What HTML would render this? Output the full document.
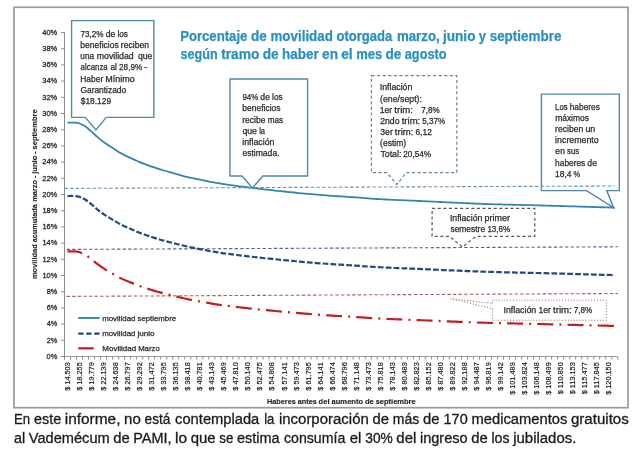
<!DOCTYPE html><html><head><meta charset="utf-8"><style>html,body{margin:0;padding:0;background:#fff;}svg{display:block;}</style></head><body>
<svg width="643" height="460" viewBox="0 0 643 460">
<rect x="0" y="0" width="643" height="460" fill="#fff"/>
<rect x="14" y="7.3" width="614" height="400.4" fill="none" stroke="#9a9a9a" stroke-width="1.7"/>
<text font-family="Liberation Sans, Arial, sans-serif" font-weight="bold" font-size="13.86" fill="#2b90bf" stroke="#2b90bf" stroke-width="0.25"><tspan x="180.14" y="40.90" textLength="67.26" lengthAdjust="spacingAndGlyphs">Porcentaje</tspan><tspan x="250.91" y="40.90" textLength="15.90" lengthAdjust="spacingAndGlyphs">de</tspan><tspan x="270.45" y="40.90" textLength="62.45" lengthAdjust="spacingAndGlyphs">movilidad</tspan><tspan x="336.50" y="40.90" textLength="55.80" lengthAdjust="spacingAndGlyphs">otorgada</tspan><tspan x="396.89" y="40.90" textLength="42.83" lengthAdjust="spacingAndGlyphs">marzo,</tspan><tspan x="443.03" y="40.90" textLength="32.43" lengthAdjust="spacingAndGlyphs">junio</tspan><tspan x="478.80" y="40.90" textLength="7.33" lengthAdjust="spacingAndGlyphs">y</tspan><tspan x="489.68" y="40.90" textLength="71.70" lengthAdjust="spacingAndGlyphs">septiembre</tspan><tspan x="180.56" y="59.10" textLength="37.18" lengthAdjust="spacingAndGlyphs">según</tspan><tspan x="221.16" y="59.10" textLength="38.31" lengthAdjust="spacingAndGlyphs">tramo</tspan><tspan x="262.72" y="59.10" textLength="15.90" lengthAdjust="spacingAndGlyphs">de</tspan><tspan x="281.94" y="59.10" textLength="36.72" lengthAdjust="spacingAndGlyphs">haber</tspan><tspan x="322.05" y="59.10" textLength="15.94" lengthAdjust="spacingAndGlyphs">en</tspan><tspan x="341.21" y="59.10" textLength="11.50" lengthAdjust="spacingAndGlyphs">el</tspan><tspan x="356.13" y="59.10" textLength="26.08" lengthAdjust="spacingAndGlyphs">mes</tspan><tspan x="385.38" y="59.10" textLength="15.90" lengthAdjust="spacingAndGlyphs">de</tspan><tspan x="404.79" y="59.10" textLength="41.76" lengthAdjust="spacingAndGlyphs">agosto</tspan></text>
<line x1="64.5" y1="32.2" x2="64.5" y2="359.5" stroke="#8a8a8a" stroke-width="1"/>
<line x1="61.2" y1="356.50" x2="64.5" y2="356.50" stroke="#8a8a8a" stroke-width="1"/>
<line x1="61.2" y1="340.30" x2="64.5" y2="340.30" stroke="#8a8a8a" stroke-width="1"/>
<line x1="61.2" y1="324.10" x2="64.5" y2="324.10" stroke="#8a8a8a" stroke-width="1"/>
<line x1="61.2" y1="307.90" x2="64.5" y2="307.90" stroke="#8a8a8a" stroke-width="1"/>
<line x1="61.2" y1="291.70" x2="64.5" y2="291.70" stroke="#8a8a8a" stroke-width="1"/>
<line x1="61.2" y1="275.50" x2="64.5" y2="275.50" stroke="#8a8a8a" stroke-width="1"/>
<line x1="61.2" y1="259.30" x2="64.5" y2="259.30" stroke="#8a8a8a" stroke-width="1"/>
<line x1="61.2" y1="243.10" x2="64.5" y2="243.10" stroke="#8a8a8a" stroke-width="1"/>
<line x1="61.2" y1="226.90" x2="64.5" y2="226.90" stroke="#8a8a8a" stroke-width="1"/>
<line x1="61.2" y1="210.70" x2="64.5" y2="210.70" stroke="#8a8a8a" stroke-width="1"/>
<line x1="61.2" y1="194.50" x2="64.5" y2="194.50" stroke="#8a8a8a" stroke-width="1"/>
<line x1="61.2" y1="178.30" x2="64.5" y2="178.30" stroke="#8a8a8a" stroke-width="1"/>
<line x1="61.2" y1="162.10" x2="64.5" y2="162.10" stroke="#8a8a8a" stroke-width="1"/>
<line x1="61.2" y1="145.90" x2="64.5" y2="145.90" stroke="#8a8a8a" stroke-width="1"/>
<line x1="61.2" y1="129.70" x2="64.5" y2="129.70" stroke="#8a8a8a" stroke-width="1"/>
<line x1="61.2" y1="113.50" x2="64.5" y2="113.50" stroke="#8a8a8a" stroke-width="1"/>
<line x1="61.2" y1="97.30" x2="64.5" y2="97.30" stroke="#8a8a8a" stroke-width="1"/>
<line x1="61.2" y1="81.10" x2="64.5" y2="81.10" stroke="#8a8a8a" stroke-width="1"/>
<line x1="61.2" y1="64.90" x2="64.5" y2="64.90" stroke="#8a8a8a" stroke-width="1"/>
<line x1="61.2" y1="48.70" x2="64.5" y2="48.70" stroke="#8a8a8a" stroke-width="1"/>
<line x1="61.2" y1="32.50" x2="64.5" y2="32.50" stroke="#8a8a8a" stroke-width="1"/>
<text font-family="Liberation Sans, Arial, sans-serif" font-size="7.96" fill="#2a2a2a" stroke="#2a2a2a" stroke-width="0.3"><tspan x="46.57" y="358.80" textLength="10.69" lengthAdjust="spacingAndGlyphs">0%</tspan><tspan x="46.67" y="342.60" textLength="10.59" lengthAdjust="spacingAndGlyphs">2%</tspan><tspan x="46.63" y="326.40" textLength="10.63" lengthAdjust="spacingAndGlyphs">4%</tspan><tspan x="46.67" y="310.20" textLength="10.59" lengthAdjust="spacingAndGlyphs">6%</tspan><tspan x="46.67" y="294.00" textLength="10.59" lengthAdjust="spacingAndGlyphs">8%</tspan><tspan x="42.39" y="277.80" textLength="14.88" lengthAdjust="spacingAndGlyphs">10%</tspan><tspan x="42.39" y="261.60" textLength="14.88" lengthAdjust="spacingAndGlyphs">12%</tspan><tspan x="42.39" y="245.40" textLength="14.88" lengthAdjust="spacingAndGlyphs">14%</tspan><tspan x="42.39" y="229.20" textLength="14.88" lengthAdjust="spacingAndGlyphs">16%</tspan><tspan x="42.39" y="213.00" textLength="14.88" lengthAdjust="spacingAndGlyphs">18%</tspan><tspan x="42.23" y="196.80" textLength="15.05" lengthAdjust="spacingAndGlyphs">20%</tspan><tspan x="42.23" y="180.60" textLength="15.05" lengthAdjust="spacingAndGlyphs">22%</tspan><tspan x="42.23" y="164.40" textLength="15.05" lengthAdjust="spacingAndGlyphs">24%</tspan><tspan x="42.23" y="148.20" textLength="15.05" lengthAdjust="spacingAndGlyphs">26%</tspan><tspan x="42.23" y="132.00" textLength="15.05" lengthAdjust="spacingAndGlyphs">28%</tspan><tspan x="42.30" y="115.80" textLength="14.97" lengthAdjust="spacingAndGlyphs">30%</tspan><tspan x="42.30" y="99.60" textLength="14.97" lengthAdjust="spacingAndGlyphs">32%</tspan><tspan x="42.30" y="83.40" textLength="14.97" lengthAdjust="spacingAndGlyphs">34%</tspan><tspan x="42.30" y="67.20" textLength="14.97" lengthAdjust="spacingAndGlyphs">36%</tspan><tspan x="42.30" y="51.00" textLength="14.97" lengthAdjust="spacingAndGlyphs">38%</tspan><tspan x="42.19" y="34.80" textLength="15.09" lengthAdjust="spacingAndGlyphs">40%</tspan></text>
<line x1="64.5" y1="356.5" x2="617.8" y2="356.5" stroke="#a0a0a0" stroke-width="1"/>
<line x1="64.50" y1="356.5" x2="64.50" y2="359.5" stroke="#8a8a8a" stroke-width="1"/>
<line x1="70.51" y1="356.5" x2="70.51" y2="359.5" stroke="#8a8a8a" stroke-width="1"/>
<line x1="76.53" y1="356.5" x2="76.53" y2="359.5" stroke="#8a8a8a" stroke-width="1"/>
<line x1="82.54" y1="356.5" x2="82.54" y2="359.5" stroke="#8a8a8a" stroke-width="1"/>
<line x1="88.56" y1="356.5" x2="88.56" y2="359.5" stroke="#8a8a8a" stroke-width="1"/>
<line x1="94.57" y1="356.5" x2="94.57" y2="359.5" stroke="#8a8a8a" stroke-width="1"/>
<line x1="100.58" y1="356.5" x2="100.58" y2="359.5" stroke="#8a8a8a" stroke-width="1"/>
<line x1="106.60" y1="356.5" x2="106.60" y2="359.5" stroke="#8a8a8a" stroke-width="1"/>
<line x1="112.61" y1="356.5" x2="112.61" y2="359.5" stroke="#8a8a8a" stroke-width="1"/>
<line x1="118.63" y1="356.5" x2="118.63" y2="359.5" stroke="#8a8a8a" stroke-width="1"/>
<line x1="124.64" y1="356.5" x2="124.64" y2="359.5" stroke="#8a8a8a" stroke-width="1"/>
<line x1="130.66" y1="356.5" x2="130.66" y2="359.5" stroke="#8a8a8a" stroke-width="1"/>
<line x1="136.67" y1="356.5" x2="136.67" y2="359.5" stroke="#8a8a8a" stroke-width="1"/>
<line x1="142.68" y1="356.5" x2="142.68" y2="359.5" stroke="#8a8a8a" stroke-width="1"/>
<line x1="148.70" y1="356.5" x2="148.70" y2="359.5" stroke="#8a8a8a" stroke-width="1"/>
<line x1="154.71" y1="356.5" x2="154.71" y2="359.5" stroke="#8a8a8a" stroke-width="1"/>
<line x1="160.73" y1="356.5" x2="160.73" y2="359.5" stroke="#8a8a8a" stroke-width="1"/>
<line x1="166.74" y1="356.5" x2="166.74" y2="359.5" stroke="#8a8a8a" stroke-width="1"/>
<line x1="172.75" y1="356.5" x2="172.75" y2="359.5" stroke="#8a8a8a" stroke-width="1"/>
<line x1="178.77" y1="356.5" x2="178.77" y2="359.5" stroke="#8a8a8a" stroke-width="1"/>
<line x1="184.78" y1="356.5" x2="184.78" y2="359.5" stroke="#8a8a8a" stroke-width="1"/>
<line x1="190.80" y1="356.5" x2="190.80" y2="359.5" stroke="#8a8a8a" stroke-width="1"/>
<line x1="196.81" y1="356.5" x2="196.81" y2="359.5" stroke="#8a8a8a" stroke-width="1"/>
<line x1="202.82" y1="356.5" x2="202.82" y2="359.5" stroke="#8a8a8a" stroke-width="1"/>
<line x1="208.84" y1="356.5" x2="208.84" y2="359.5" stroke="#8a8a8a" stroke-width="1"/>
<line x1="214.85" y1="356.5" x2="214.85" y2="359.5" stroke="#8a8a8a" stroke-width="1"/>
<line x1="220.87" y1="356.5" x2="220.87" y2="359.5" stroke="#8a8a8a" stroke-width="1"/>
<line x1="226.88" y1="356.5" x2="226.88" y2="359.5" stroke="#8a8a8a" stroke-width="1"/>
<line x1="232.90" y1="356.5" x2="232.90" y2="359.5" stroke="#8a8a8a" stroke-width="1"/>
<line x1="238.91" y1="356.5" x2="238.91" y2="359.5" stroke="#8a8a8a" stroke-width="1"/>
<line x1="244.92" y1="356.5" x2="244.92" y2="359.5" stroke="#8a8a8a" stroke-width="1"/>
<line x1="250.94" y1="356.5" x2="250.94" y2="359.5" stroke="#8a8a8a" stroke-width="1"/>
<line x1="256.95" y1="356.5" x2="256.95" y2="359.5" stroke="#8a8a8a" stroke-width="1"/>
<line x1="262.97" y1="356.5" x2="262.97" y2="359.5" stroke="#8a8a8a" stroke-width="1"/>
<line x1="268.98" y1="356.5" x2="268.98" y2="359.5" stroke="#8a8a8a" stroke-width="1"/>
<line x1="274.99" y1="356.5" x2="274.99" y2="359.5" stroke="#8a8a8a" stroke-width="1"/>
<line x1="281.01" y1="356.5" x2="281.01" y2="359.5" stroke="#8a8a8a" stroke-width="1"/>
<line x1="287.02" y1="356.5" x2="287.02" y2="359.5" stroke="#8a8a8a" stroke-width="1"/>
<line x1="293.04" y1="356.5" x2="293.04" y2="359.5" stroke="#8a8a8a" stroke-width="1"/>
<line x1="299.05" y1="356.5" x2="299.05" y2="359.5" stroke="#8a8a8a" stroke-width="1"/>
<line x1="305.07" y1="356.5" x2="305.07" y2="359.5" stroke="#8a8a8a" stroke-width="1"/>
<line x1="311.08" y1="356.5" x2="311.08" y2="359.5" stroke="#8a8a8a" stroke-width="1"/>
<line x1="317.09" y1="356.5" x2="317.09" y2="359.5" stroke="#8a8a8a" stroke-width="1"/>
<line x1="323.11" y1="356.5" x2="323.11" y2="359.5" stroke="#8a8a8a" stroke-width="1"/>
<line x1="329.12" y1="356.5" x2="329.12" y2="359.5" stroke="#8a8a8a" stroke-width="1"/>
<line x1="335.14" y1="356.5" x2="335.14" y2="359.5" stroke="#8a8a8a" stroke-width="1"/>
<line x1="341.15" y1="356.5" x2="341.15" y2="359.5" stroke="#8a8a8a" stroke-width="1"/>
<line x1="347.16" y1="356.5" x2="347.16" y2="359.5" stroke="#8a8a8a" stroke-width="1"/>
<line x1="353.18" y1="356.5" x2="353.18" y2="359.5" stroke="#8a8a8a" stroke-width="1"/>
<line x1="359.19" y1="356.5" x2="359.19" y2="359.5" stroke="#8a8a8a" stroke-width="1"/>
<line x1="365.21" y1="356.5" x2="365.21" y2="359.5" stroke="#8a8a8a" stroke-width="1"/>
<line x1="371.22" y1="356.5" x2="371.22" y2="359.5" stroke="#8a8a8a" stroke-width="1"/>
<line x1="377.23" y1="356.5" x2="377.23" y2="359.5" stroke="#8a8a8a" stroke-width="1"/>
<line x1="383.25" y1="356.5" x2="383.25" y2="359.5" stroke="#8a8a8a" stroke-width="1"/>
<line x1="389.26" y1="356.5" x2="389.26" y2="359.5" stroke="#8a8a8a" stroke-width="1"/>
<line x1="395.28" y1="356.5" x2="395.28" y2="359.5" stroke="#8a8a8a" stroke-width="1"/>
<line x1="401.29" y1="356.5" x2="401.29" y2="359.5" stroke="#8a8a8a" stroke-width="1"/>
<line x1="407.31" y1="356.5" x2="407.31" y2="359.5" stroke="#8a8a8a" stroke-width="1"/>
<line x1="413.32" y1="356.5" x2="413.32" y2="359.5" stroke="#8a8a8a" stroke-width="1"/>
<line x1="419.33" y1="356.5" x2="419.33" y2="359.5" stroke="#8a8a8a" stroke-width="1"/>
<line x1="425.35" y1="356.5" x2="425.35" y2="359.5" stroke="#8a8a8a" stroke-width="1"/>
<line x1="431.36" y1="356.5" x2="431.36" y2="359.5" stroke="#8a8a8a" stroke-width="1"/>
<line x1="437.38" y1="356.5" x2="437.38" y2="359.5" stroke="#8a8a8a" stroke-width="1"/>
<line x1="443.39" y1="356.5" x2="443.39" y2="359.5" stroke="#8a8a8a" stroke-width="1"/>
<line x1="449.40" y1="356.5" x2="449.40" y2="359.5" stroke="#8a8a8a" stroke-width="1"/>
<line x1="455.42" y1="356.5" x2="455.42" y2="359.5" stroke="#8a8a8a" stroke-width="1"/>
<line x1="461.43" y1="356.5" x2="461.43" y2="359.5" stroke="#8a8a8a" stroke-width="1"/>
<line x1="467.45" y1="356.5" x2="467.45" y2="359.5" stroke="#8a8a8a" stroke-width="1"/>
<line x1="473.46" y1="356.5" x2="473.46" y2="359.5" stroke="#8a8a8a" stroke-width="1"/>
<line x1="479.47" y1="356.5" x2="479.47" y2="359.5" stroke="#8a8a8a" stroke-width="1"/>
<line x1="485.49" y1="356.5" x2="485.49" y2="359.5" stroke="#8a8a8a" stroke-width="1"/>
<line x1="491.50" y1="356.5" x2="491.50" y2="359.5" stroke="#8a8a8a" stroke-width="1"/>
<line x1="497.52" y1="356.5" x2="497.52" y2="359.5" stroke="#8a8a8a" stroke-width="1"/>
<line x1="503.53" y1="356.5" x2="503.53" y2="359.5" stroke="#8a8a8a" stroke-width="1"/>
<line x1="509.55" y1="356.5" x2="509.55" y2="359.5" stroke="#8a8a8a" stroke-width="1"/>
<line x1="515.56" y1="356.5" x2="515.56" y2="359.5" stroke="#8a8a8a" stroke-width="1"/>
<line x1="521.57" y1="356.5" x2="521.57" y2="359.5" stroke="#8a8a8a" stroke-width="1"/>
<line x1="527.59" y1="356.5" x2="527.59" y2="359.5" stroke="#8a8a8a" stroke-width="1"/>
<line x1="533.60" y1="356.5" x2="533.60" y2="359.5" stroke="#8a8a8a" stroke-width="1"/>
<line x1="539.62" y1="356.5" x2="539.62" y2="359.5" stroke="#8a8a8a" stroke-width="1"/>
<line x1="545.63" y1="356.5" x2="545.63" y2="359.5" stroke="#8a8a8a" stroke-width="1"/>
<line x1="551.64" y1="356.5" x2="551.64" y2="359.5" stroke="#8a8a8a" stroke-width="1"/>
<line x1="557.66" y1="356.5" x2="557.66" y2="359.5" stroke="#8a8a8a" stroke-width="1"/>
<line x1="563.67" y1="356.5" x2="563.67" y2="359.5" stroke="#8a8a8a" stroke-width="1"/>
<line x1="569.69" y1="356.5" x2="569.69" y2="359.5" stroke="#8a8a8a" stroke-width="1"/>
<line x1="575.70" y1="356.5" x2="575.70" y2="359.5" stroke="#8a8a8a" stroke-width="1"/>
<line x1="581.72" y1="356.5" x2="581.72" y2="359.5" stroke="#8a8a8a" stroke-width="1"/>
<line x1="587.73" y1="356.5" x2="587.73" y2="359.5" stroke="#8a8a8a" stroke-width="1"/>
<line x1="593.74" y1="356.5" x2="593.74" y2="359.5" stroke="#8a8a8a" stroke-width="1"/>
<line x1="599.76" y1="356.5" x2="599.76" y2="359.5" stroke="#8a8a8a" stroke-width="1"/>
<line x1="605.77" y1="356.5" x2="605.77" y2="359.5" stroke="#8a8a8a" stroke-width="1"/>
<line x1="611.79" y1="356.5" x2="611.79" y2="359.5" stroke="#8a8a8a" stroke-width="1"/>
<line x1="617.80" y1="356.5" x2="617.80" y2="359.5" stroke="#8a8a8a" stroke-width="1"/>
<g font-family="Liberation Sans, Arial, sans-serif" font-size="7.3" fill="#2a2a2a" stroke="#2a2a2a" stroke-width="0.22"><text transform="translate(70.01,362.3) rotate(-90)" text-anchor="end">$ 14.503</text><text transform="translate(82.04,362.3) rotate(-90)" text-anchor="end">$ 18.255</text><text transform="translate(94.06,362.3) rotate(-90)" text-anchor="end">$ 19.779</text><text transform="translate(106.09,362.3) rotate(-90)" text-anchor="end">$ 22.139</text><text transform="translate(118.12,362.3) rotate(-90)" text-anchor="end">$ 24.638</text><text transform="translate(130.15,362.3) rotate(-90)" text-anchor="end">$ 26.797</text><text transform="translate(142.18,362.3) rotate(-90)" text-anchor="end">$ 29.292</text><text transform="translate(154.20,362.3) rotate(-90)" text-anchor="end">$ 31.472</text><text transform="translate(166.23,362.3) rotate(-90)" text-anchor="end">$ 33.795</text><text transform="translate(178.26,362.3) rotate(-90)" text-anchor="end">$ 36.135</text><text transform="translate(190.29,362.3) rotate(-90)" text-anchor="end">$ 38.418</text><text transform="translate(202.32,362.3) rotate(-90)" text-anchor="end">$ 40.781</text><text transform="translate(214.35,362.3) rotate(-90)" text-anchor="end">$ 43.143</text><text transform="translate(226.37,362.3) rotate(-90)" text-anchor="end">$ 45.469</text><text transform="translate(238.40,362.3) rotate(-90)" text-anchor="end">$ 47.810</text><text transform="translate(250.43,362.3) rotate(-90)" text-anchor="end">$ 50.140</text><text transform="translate(262.46,362.3) rotate(-90)" text-anchor="end">$ 52.475</text><text transform="translate(274.49,362.3) rotate(-90)" text-anchor="end">$ 54.808</text><text transform="translate(286.52,362.3) rotate(-90)" text-anchor="end">$ 57.141</text><text transform="translate(298.54,362.3) rotate(-90)" text-anchor="end">$ 59.473</text><text transform="translate(310.57,362.3) rotate(-90)" text-anchor="end">$ 61.795</text><text transform="translate(322.60,362.3) rotate(-90)" text-anchor="end">$ 64.141</text><text transform="translate(334.63,362.3) rotate(-90)" text-anchor="end">$ 66.474</text><text transform="translate(346.66,362.3) rotate(-90)" text-anchor="end">$ 68.796</text><text transform="translate(358.69,362.3) rotate(-90)" text-anchor="end">$ 71.148</text><text transform="translate(370.71,362.3) rotate(-90)" text-anchor="end">$ 73.473</text><text transform="translate(382.74,362.3) rotate(-90)" text-anchor="end">$ 75.818</text><text transform="translate(394.77,362.3) rotate(-90)" text-anchor="end">$ 78.143</text><text transform="translate(406.80,362.3) rotate(-90)" text-anchor="end">$ 80.483</text><text transform="translate(418.83,362.3) rotate(-90)" text-anchor="end">$ 82.823</text><text transform="translate(430.85,362.3) rotate(-90)" text-anchor="end">$ 85.152</text><text transform="translate(442.88,362.3) rotate(-90)" text-anchor="end">$ 87.480</text><text transform="translate(454.91,362.3) rotate(-90)" text-anchor="end">$ 89.822</text><text transform="translate(466.94,362.3) rotate(-90)" text-anchor="end">$ 92.188</text><text transform="translate(478.97,362.3) rotate(-90)" text-anchor="end">$ 94.487</text><text transform="translate(491.00,362.3) rotate(-90)" text-anchor="end">$ 96.819</text><text transform="translate(503.02,362.3) rotate(-90)" text-anchor="end">$ 99.142</text><text transform="translate(515.05,362.3) rotate(-90)" text-anchor="end">$ 101.489</text><text transform="translate(527.08,362.3) rotate(-90)" text-anchor="end">$ 103.824</text><text transform="translate(539.11,362.3) rotate(-90)" text-anchor="end">$ 106.148</text><text transform="translate(551.14,362.3) rotate(-90)" text-anchor="end">$ 108.499</text><text transform="translate(563.17,362.3) rotate(-90)" text-anchor="end">$ 110.850</text><text transform="translate(575.19,362.3) rotate(-90)" text-anchor="end">$ 113.153</text><text transform="translate(587.22,362.3) rotate(-90)" text-anchor="end">$ 115.477</text><text transform="translate(599.25,362.3) rotate(-90)" text-anchor="end">$ 117.845</text><text transform="translate(611.28,362.3) rotate(-90)" text-anchor="end">$ 120.150</text></g>
<text font-family="Liberation Sans, Arial, sans-serif" font-weight="bold" font-size="7.73" fill="#262626" stroke="#262626" stroke-width="0.15"><tspan x="266.92" y="404.30" textLength="28.92" lengthAdjust="spacingAndGlyphs">Haberes</tspan><tspan x="297.75" y="404.30" textLength="19.12" lengthAdjust="spacingAndGlyphs">antes</tspan><tspan x="318.61" y="404.30" textLength="10.93" lengthAdjust="spacingAndGlyphs">del</tspan><tspan x="331.50" y="404.30" textLength="31.69" lengthAdjust="spacingAndGlyphs">aumento</tspan><tspan x="364.97" y="404.30" textLength="8.87" lengthAdjust="spacingAndGlyphs">de</tspan><tspan x="375.67" y="404.30" textLength="39.99" lengthAdjust="spacingAndGlyphs">septiembre</tspan></text>
<text font-family="Liberation Sans, Arial, sans-serif" font-weight="bold" font-size="7.73" fill="#262626" stroke="#262626" stroke-width="0.15" transform="translate(36.9,278.6) rotate(-90)"><tspan x="-0.49" y="0.00" textLength="34.83" lengthAdjust="spacingAndGlyphs">movilidad</tspan><tspan x="36.34" y="0.00" textLength="38.00" lengthAdjust="spacingAndGlyphs">acumulada</tspan><tspan x="76.80" y="0.00" textLength="21.86" lengthAdjust="spacingAndGlyphs">marzo</tspan><tspan x="100.42" y="0.00" textLength="2.70" lengthAdjust="spacingAndGlyphs">-</tspan><tspan x="104.85" y="0.00" textLength="18.09" lengthAdjust="spacingAndGlyphs">junio</tspan><tspan x="124.67" y="0.00" textLength="2.70" lengthAdjust="spacingAndGlyphs">-</tspan><tspan x="129.19" y="0.00" textLength="39.99" lengthAdjust="spacingAndGlyphs">septiembre</tspan></text>
<line x1="66.6" y1="249.4" x2="617.9" y2="246.8" stroke="#4f6a92" stroke-width="1.1" stroke-dasharray="3.4 2.2"/>
<line x1="66.6" y1="296.4" x2="617.9" y2="293.5" stroke="#b85a5a" stroke-width="1.1" stroke-dasharray="3.4 2.2"/>
<path d="M67.51 251.43 C68.51 251.43 71.52 251.30 73.52 251.43 C75.53 251.56 77.53 251.64 79.54 252.21 C81.54 252.79 83.54 253.70 85.55 254.89 C87.55 256.09 89.56 257.83 91.56 259.38 C93.57 260.93 95.57 262.69 97.58 264.20 C99.58 265.71 101.59 267.13 103.59 268.44 C105.60 269.75 107.60 270.87 109.61 272.04 C111.61 273.20 113.62 274.33 115.62 275.42 C117.62 276.52 119.63 277.64 121.63 278.62 C123.64 279.59 125.64 280.44 127.65 281.27 C129.65 282.10 131.66 282.81 133.66 283.61 C135.67 284.41 137.67 285.33 139.68 286.09 C141.68 286.84 143.69 287.47 145.69 288.12 C147.70 288.77 149.70 289.38 151.70 289.99 C153.71 290.61 155.71 291.23 157.72 291.80 C159.72 292.37 161.73 292.90 163.73 293.42 C165.74 293.95 167.74 294.44 169.75 294.93 C171.75 295.43 173.76 295.92 175.76 296.41 C177.77 296.89 179.77 297.36 181.78 297.82 C183.78 298.28 185.78 298.75 187.79 299.16 C189.79 299.58 191.80 299.95 193.80 300.32 C195.81 300.70 197.81 301.06 199.82 301.42 C201.82 301.78 203.83 302.13 205.83 302.49 C207.84 302.85 209.84 303.24 211.85 303.59 C213.85 303.94 215.86 304.26 217.86 304.57 C219.87 304.87 221.87 305.14 223.87 305.40 C225.88 305.67 227.88 305.93 229.89 306.17 C231.89 306.42 233.90 306.66 235.90 306.89 C237.91 307.13 239.91 307.35 241.92 307.58 C243.92 307.80 245.93 308.02 247.93 308.24 C249.94 308.46 251.94 308.68 253.95 308.89 C255.95 309.11 257.95 309.31 259.96 309.52 C261.96 309.72 263.97 309.92 265.97 310.12 C267.98 310.32 269.98 310.51 271.99 310.70 C273.99 310.89 276.00 311.08 278.00 311.27 C280.01 311.45 282.01 311.64 284.02 311.82 C286.02 312.00 288.03 312.19 290.03 312.37 C292.03 312.55 294.04 312.73 296.04 312.91 C298.05 313.08 300.05 313.26 302.06 313.43 C304.06 313.60 306.07 313.77 308.07 313.94 C310.08 314.10 312.08 314.26 314.09 314.41 C316.09 314.56 318.10 314.71 320.10 314.85 C322.11 314.99 324.11 315.12 326.11 315.25 C328.12 315.38 330.12 315.50 332.13 315.62 C334.13 315.74 336.14 315.86 338.14 315.98 C340.15 316.09 342.15 316.21 344.16 316.32 C346.16 316.44 348.17 316.56 350.17 316.68 C352.18 316.80 354.18 316.93 356.19 317.06 C358.19 317.19 360.19 317.33 362.20 317.46 C364.20 317.59 366.21 317.72 368.21 317.85 C370.22 317.98 372.22 318.11 374.23 318.23 C376.23 318.35 378.24 318.46 380.24 318.57 C382.25 318.67 384.25 318.77 386.26 318.86 C388.26 318.95 390.27 319.03 392.27 319.12 C394.27 319.20 396.28 319.28 398.28 319.35 C400.29 319.43 402.29 319.50 404.30 319.58 C406.30 319.65 408.31 319.72 410.31 319.80 C412.32 319.88 414.32 319.95 416.33 320.03 C418.33 320.11 420.34 320.19 422.34 320.27 C424.35 320.36 426.35 320.44 428.35 320.53 C430.36 320.61 432.36 320.70 434.37 320.79 C436.37 320.87 438.38 320.96 440.38 321.04 C442.39 321.13 444.39 321.21 446.40 321.30 C448.40 321.38 450.41 321.46 452.41 321.54 C454.42 321.62 456.42 321.70 458.43 321.78 C460.43 321.86 462.43 321.93 464.44 322.01 C466.44 322.09 468.45 322.16 470.45 322.24 C472.46 322.31 474.46 322.39 476.47 322.46 C478.47 322.53 480.48 322.61 482.48 322.67 C484.49 322.74 486.49 322.81 488.50 322.87 C490.50 322.93 492.51 322.99 494.51 323.04 C496.52 323.10 498.52 323.15 500.52 323.20 C502.53 323.25 504.53 323.29 506.54 323.33 C508.54 323.38 510.55 323.42 512.55 323.46 C514.56 323.50 516.56 323.54 518.57 323.58 C520.57 323.62 522.58 323.66 524.58 323.70 C526.59 323.74 528.59 323.78 530.60 323.82 C532.60 323.86 534.60 323.90 536.61 323.95 C538.61 323.99 540.62 324.04 542.62 324.09 C544.63 324.14 546.63 324.19 548.64 324.24 C550.64 324.29 552.65 324.34 554.65 324.40 C556.66 324.45 558.66 324.50 560.67 324.55 C562.67 324.61 564.68 324.66 566.68 324.72 C568.68 324.77 570.69 324.82 572.69 324.88 C574.70 324.93 576.70 324.98 578.71 325.03 C580.71 325.08 582.72 325.14 584.72 325.19 C586.73 325.24 588.73 325.29 590.74 325.34 C592.74 325.39 594.75 325.44 596.75 325.49 C598.76 325.54 600.76 325.59 602.76 325.64 C604.77 325.69 606.77 325.75 608.78 325.80 C610.78 325.85 613.79 325.92 614.79 325.95" fill="none" stroke="#c02020" stroke-width="2.2" stroke-dasharray="16 6.1 2 6.1" stroke-dashoffset="1.1"/>
<path d="M67.51 196.03 C68.51 196.03 71.52 195.89 73.52 196.03 C75.53 196.17 77.53 196.25 79.54 196.86 C81.54 197.47 83.54 198.43 85.55 199.70 C87.55 200.97 89.56 202.82 91.56 204.46 C93.57 206.11 95.57 207.98 97.58 209.58 C99.58 211.18 101.59 212.69 103.59 214.08 C105.60 215.46 107.60 216.66 109.61 217.90 C111.61 219.13 113.62 220.33 115.62 221.49 C117.62 222.65 119.63 223.85 121.63 224.88 C123.64 225.91 125.64 226.81 127.65 227.69 C129.65 228.58 131.66 229.32 133.66 230.18 C135.67 231.03 137.67 232.01 139.68 232.80 C141.68 233.60 143.69 234.27 145.69 234.96 C147.70 235.65 149.70 236.30 151.70 236.95 C153.71 237.60 155.71 238.26 157.72 238.87 C159.72 239.48 161.73 240.04 163.73 240.59 C165.74 241.15 167.74 241.67 169.75 242.20 C171.75 242.72 173.76 243.25 175.76 243.76 C177.77 244.27 179.77 244.77 181.78 245.26 C183.78 245.75 185.78 246.24 187.79 246.68 C189.79 247.12 191.80 247.51 193.80 247.91 C195.81 248.31 197.81 248.69 199.82 249.07 C201.82 249.46 203.83 249.83 205.83 250.21 C207.84 250.60 209.84 251.01 211.85 251.38 C213.85 251.75 215.86 252.09 217.86 252.42 C219.87 252.74 221.87 253.02 223.87 253.30 C225.88 253.59 227.88 253.86 229.89 254.12 C231.89 254.39 233.90 254.64 235.90 254.89 C237.91 255.13 239.91 255.37 241.92 255.61 C243.92 255.85 245.93 256.08 247.93 256.31 C249.94 256.55 251.94 256.78 253.95 257.01 C255.95 257.23 257.95 257.46 259.96 257.67 C261.96 257.89 263.97 258.10 265.97 258.31 C267.98 258.52 269.98 258.73 271.99 258.93 C273.99 259.13 276.00 259.33 278.00 259.53 C280.01 259.72 282.01 259.92 284.02 260.11 C286.02 260.31 288.03 260.50 290.03 260.69 C292.03 260.89 294.04 261.08 296.04 261.27 C298.05 261.46 300.05 261.64 302.06 261.82 C304.06 262.01 306.07 262.19 308.07 262.36 C310.08 262.53 312.08 262.70 314.09 262.86 C316.09 263.03 318.10 263.18 320.10 263.33 C322.11 263.48 324.11 263.62 326.11 263.76 C328.12 263.89 330.12 264.02 332.13 264.15 C334.13 264.28 336.14 264.40 338.14 264.52 C340.15 264.65 342.15 264.77 344.16 264.89 C346.16 265.02 348.17 265.14 350.17 265.27 C352.18 265.40 354.18 265.54 356.19 265.67 C358.19 265.81 360.19 265.96 362.20 266.10 C364.20 266.24 366.21 266.38 368.21 266.52 C370.22 266.65 372.22 266.79 374.23 266.91 C376.23 267.04 378.24 267.16 380.24 267.27 C382.25 267.39 384.25 267.48 386.26 267.58 C388.26 267.68 390.27 267.77 392.27 267.86 C394.27 267.94 396.28 268.03 398.28 268.11 C400.29 268.19 402.29 268.27 404.30 268.35 C406.30 268.43 408.31 268.50 410.31 268.58 C412.32 268.66 414.32 268.74 416.33 268.83 C418.33 268.91 420.34 269.00 422.34 269.08 C424.35 269.17 426.35 269.26 428.35 269.35 C430.36 269.44 432.36 269.54 434.37 269.63 C436.37 269.72 438.38 269.81 440.38 269.90 C442.39 269.99 444.39 270.08 446.40 270.17 C448.40 270.26 450.41 270.35 452.41 270.43 C454.42 270.52 456.42 270.60 458.43 270.68 C460.43 270.76 462.43 270.84 464.44 270.93 C466.44 271.01 468.45 271.09 470.45 271.17 C472.46 271.25 474.46 271.33 476.47 271.41 C478.47 271.48 480.48 271.56 482.48 271.63 C484.49 271.70 486.49 271.77 488.50 271.84 C490.50 271.90 492.51 271.97 494.51 272.02 C496.52 272.08 498.52 272.14 500.52 272.19 C502.53 272.24 504.53 272.29 506.54 272.33 C508.54 272.38 510.55 272.42 512.55 272.47 C514.56 272.51 516.56 272.55 518.57 272.59 C520.57 272.64 522.58 272.68 524.58 272.72 C526.59 272.76 528.59 272.80 530.60 272.85 C532.60 272.89 534.60 272.94 536.61 272.99 C538.61 273.03 540.62 273.08 542.62 273.14 C544.63 273.19 546.63 273.24 548.64 273.29 C550.64 273.35 552.65 273.40 554.65 273.46 C556.66 273.51 558.66 273.57 560.67 273.63 C562.67 273.68 564.68 273.74 566.68 273.80 C568.68 273.85 570.69 273.91 572.69 273.97 C574.70 274.02 576.70 274.08 578.71 274.13 C580.71 274.19 582.72 274.24 584.72 274.30 C586.73 274.35 588.73 274.41 590.74 274.46 C592.74 274.51 594.75 274.57 596.75 274.62 C598.76 274.68 600.76 274.73 602.76 274.78 C604.77 274.84 606.77 274.89 608.78 274.94 C610.78 275.00 613.79 275.08 614.79 275.11" fill="none" stroke="#234a80" stroke-width="2.2" stroke-dasharray="5.8 2.1"/>
<path d="M67.51 122.60 C68.51 122.60 71.52 122.45 73.52 122.60 C75.53 122.75 77.53 122.83 79.54 123.49 C81.54 124.15 83.54 125.18 85.55 126.55 C87.55 127.91 89.56 129.90 91.56 131.67 C93.57 133.44 95.57 135.44 97.58 137.17 C99.58 138.89 101.59 140.51 103.59 142.00 C105.60 143.49 107.60 144.78 109.61 146.11 C111.61 147.44 113.62 148.72 115.62 149.97 C117.62 151.22 119.63 152.50 121.63 153.61 C123.64 154.72 125.64 155.69 127.65 156.64 C129.65 157.59 131.66 158.39 133.66 159.31 C135.67 160.22 137.67 161.28 139.68 162.13 C141.68 162.99 143.69 163.71 145.69 164.45 C147.70 165.19 149.70 165.89 151.70 166.59 C153.71 167.29 155.71 168.00 157.72 168.65 C159.72 169.31 161.73 169.91 163.73 170.50 C165.74 171.10 167.74 171.66 169.75 172.23 C171.75 172.79 173.76 173.36 175.76 173.91 C177.77 174.45 179.77 175.00 181.78 175.52 C183.78 176.05 185.78 176.58 187.79 177.05 C189.79 177.53 191.80 177.94 193.80 178.37 C195.81 178.80 197.81 179.21 199.82 179.62 C201.82 180.03 203.83 180.43 205.83 180.84 C207.84 181.26 209.84 181.71 211.85 182.10 C213.85 182.50 215.86 182.87 217.86 183.21 C219.87 183.56 221.87 183.86 223.87 184.17 C225.88 184.48 227.88 184.77 229.89 185.05 C231.89 185.33 233.90 185.60 235.90 185.87 C237.91 186.14 239.91 186.39 241.92 186.65 C243.92 186.91 245.93 187.16 247.93 187.41 C249.94 187.66 251.94 187.91 253.95 188.15 C255.95 188.39 257.95 188.63 259.96 188.87 C261.96 189.10 263.97 189.33 265.97 189.55 C267.98 189.78 269.98 190.00 271.99 190.22 C273.99 190.43 276.00 190.65 278.00 190.86 C280.01 191.07 282.01 191.28 284.02 191.49 C286.02 191.70 288.03 191.91 290.03 192.11 C292.03 192.32 294.04 192.53 296.04 192.73 C298.05 192.93 300.05 193.13 302.06 193.33 C304.06 193.52 306.07 193.72 308.07 193.90 C310.08 194.09 312.08 194.27 314.09 194.45 C316.09 194.62 318.10 194.79 320.10 194.95 C322.11 195.11 324.11 195.26 326.11 195.41 C328.12 195.55 330.12 195.69 332.13 195.83 C334.13 195.96 336.14 196.10 338.14 196.23 C340.15 196.36 342.15 196.49 344.16 196.63 C346.16 196.76 348.17 196.89 350.17 197.04 C352.18 197.18 354.18 197.32 356.19 197.47 C358.19 197.62 360.19 197.77 362.20 197.92 C364.20 198.07 366.21 198.23 368.21 198.37 C370.22 198.52 372.22 198.67 374.23 198.80 C376.23 198.94 378.24 199.07 380.24 199.19 C382.25 199.31 384.25 199.41 386.26 199.52 C388.26 199.62 390.27 199.72 392.27 199.81 C394.27 199.91 396.28 199.99 398.28 200.08 C400.29 200.17 402.29 200.25 404.30 200.34 C406.30 200.42 408.31 200.51 410.31 200.59 C412.32 200.68 414.32 200.77 416.33 200.86 C418.33 200.95 420.34 201.04 422.34 201.13 C424.35 201.23 426.35 201.33 428.35 201.42 C430.36 201.52 432.36 201.62 434.37 201.72 C436.37 201.81 438.38 201.91 440.38 202.01 C442.39 202.11 444.39 202.21 446.40 202.30 C448.40 202.40 450.41 202.49 452.41 202.58 C454.42 202.67 456.42 202.76 458.43 202.85 C460.43 202.94 462.43 203.03 464.44 203.11 C466.44 203.20 468.45 203.29 470.45 203.37 C472.46 203.46 474.46 203.55 476.47 203.63 C478.47 203.71 480.48 203.79 482.48 203.87 C484.49 203.95 486.49 204.02 488.50 204.09 C490.50 204.17 492.51 204.23 494.51 204.29 C496.52 204.36 498.52 204.41 500.52 204.47 C502.53 204.52 504.53 204.58 506.54 204.63 C508.54 204.68 510.55 204.72 512.55 204.77 C514.56 204.82 516.56 204.86 518.57 204.91 C520.57 204.95 522.58 204.99 524.58 205.04 C526.59 205.09 528.59 205.13 530.60 205.18 C532.60 205.23 534.60 205.28 536.61 205.33 C538.61 205.38 540.62 205.43 542.62 205.49 C544.63 205.54 546.63 205.60 548.64 205.66 C550.64 205.72 552.65 205.78 554.65 205.84 C556.66 205.90 558.66 205.96 560.67 206.02 C562.67 206.08 564.68 206.14 566.68 206.20 C568.68 206.26 570.69 206.32 572.69 206.38 C574.70 206.44 576.70 206.50 578.71 206.56 C580.71 206.62 582.72 206.68 584.72 206.74 C586.73 206.80 588.73 206.85 590.74 206.91 C592.74 206.97 594.75 207.03 596.75 207.09 C598.76 207.14 600.76 207.20 602.76 207.26 C604.77 207.32 606.77 207.38 608.78 207.43 C610.78 207.49 613.79 207.58 614.79 207.61" fill="none" stroke="#3385ad" stroke-width="1.8"/>
<line x1="78.2" y1="318" x2="99.6" y2="318" stroke="#3385ad" stroke-width="1.9"/>
<line x1="78.2" y1="333.6" x2="99.6" y2="333.6" stroke="#234a80" stroke-width="2.4" stroke-dasharray="5.4 2.6"/>
<line x1="78.2" y1="348.3" x2="93.7" y2="348.3" stroke="#c02020" stroke-width="2.2"/>
<text font-family="Liberation Sans, Arial, sans-serif" font-size="7.66" fill="#2a2a2a" stroke="#2a2a2a" stroke-width="0.25"><tspan x="102.19" y="320.60" textLength="33.24" lengthAdjust="spacingAndGlyphs">movilidad</tspan><tspan x="137.48" y="320.60" textLength="38.69" lengthAdjust="spacingAndGlyphs">septiembre</tspan><tspan x="102.19" y="335.60" textLength="33.24" lengthAdjust="spacingAndGlyphs">movilidad</tspan><tspan x="137.41" y="335.60" textLength="17.18" lengthAdjust="spacingAndGlyphs">junio</tspan><tspan x="102.36" y="350.60" textLength="33.80" lengthAdjust="spacingAndGlyphs">Movilidad</tspan><tspan x="138.15" y="350.60" textLength="21.59" lengthAdjust="spacingAndGlyphs">Marzo</tspan></text>
<path d="M71.6 20.6 L153.8 20.6 L153.8 117.4 L106.2 117.4 L95.9 129.9 L85.2 117.4 L71.6 117.4 Z" fill="#fff" stroke="#4a8f9f" stroke-width="1.4"/>
<text font-family="Liberation Sans, Arial, sans-serif" font-size="8.51" fill="#2a2a2a" stroke="#2a2a2a" stroke-width="0.25"><tspan x="80.49" y="36.80" textLength="23.11" lengthAdjust="spacingAndGlyphs">73,2%</tspan><tspan x="105.68" y="36.80" textLength="9.59" lengthAdjust="spacingAndGlyphs">de</tspan><tspan x="117.43" y="36.80" textLength="10.53" lengthAdjust="spacingAndGlyphs">los</tspan><tspan x="80.35" y="48.00" textLength="38.36" lengthAdjust="spacingAndGlyphs">beneficios</tspan><tspan x="120.88" y="48.00" textLength="28.18" lengthAdjust="spacingAndGlyphs">reciben</tspan><tspan x="80.37" y="59.20" textLength="13.67" lengthAdjust="spacingAndGlyphs">una</tspan><tspan x="96.75" y="59.20" textLength="36.94" lengthAdjust="spacingAndGlyphs">movilidad</tspan><tspan x="137.98" y="59.20" textLength="14.49" lengthAdjust="spacingAndGlyphs">que</tspan><tspan x="80.58" y="70.40" textLength="27.16" lengthAdjust="spacingAndGlyphs">alcanza</tspan><tspan x="110.43" y="70.40" textLength="6.48" lengthAdjust="spacingAndGlyphs">al</tspan><tspan x="119.09" y="70.40" textLength="23.11" lengthAdjust="spacingAndGlyphs">28,9%</tspan><tspan x="144.22" y="70.40" textLength="2.97" lengthAdjust="spacingAndGlyphs">-</tspan><tspan x="80.22" y="81.60" textLength="23.01" lengthAdjust="spacingAndGlyphs">Haber</tspan><tspan x="105.38" y="81.60" textLength="29.47" lengthAdjust="spacingAndGlyphs">Mínimo</tspan><tspan x="80.48" y="92.80" textLength="45.70" lengthAdjust="spacingAndGlyphs">Garantizado</tspan><tspan x="80.82" y="104.00" textLength="30.22" lengthAdjust="spacingAndGlyphs">$18.129</tspan></text>
<path d="M230.0 79.0 L307.6 79.0 L307.6 176.0 L262.9 176.0 L252.5 187.9 L242.0 176.0 L230.0 176.0 Z" fill="#fff" stroke="#4f86b0" stroke-width="1.4"/>
<text font-family="Liberation Sans, Arial, sans-serif" font-size="8.51" fill="#2a2a2a" stroke="#2a2a2a" stroke-width="0.25"><tspan x="242.44" y="100.00" textLength="15.85" lengthAdjust="spacingAndGlyphs">94%</tspan><tspan x="260.35" y="100.00" textLength="9.59" lengthAdjust="spacingAndGlyphs">de</tspan><tspan x="272.11" y="100.00" textLength="10.53" lengthAdjust="spacingAndGlyphs">los</tspan><tspan x="242.25" y="111.25" textLength="38.36" lengthAdjust="spacingAndGlyphs">beneficios</tspan><tspan x="242.24" y="122.50" textLength="23.30" lengthAdjust="spacingAndGlyphs">recibe</tspan><tspan x="267.75" y="122.50" textLength="15.41" lengthAdjust="spacingAndGlyphs">mas</tspan><tspan x="242.45" y="133.75" textLength="14.49" lengthAdjust="spacingAndGlyphs">que</tspan><tspan x="259.13" y="133.75" textLength="5.91" lengthAdjust="spacingAndGlyphs">la</tspan><tspan x="242.23" y="145.00" textLength="32.24" lengthAdjust="spacingAndGlyphs">inflación</tspan><tspan x="242.46" y="156.25" textLength="37.06" lengthAdjust="spacingAndGlyphs">estimada.</tspan></text>
<path d="M371.4 75.7 L456.8 75.7 L456.8 172.6 L406.2 172.6 L396.9 184.5 L386.8 172.6 L371.4 172.6 Z" fill="#fff" stroke="#6a8794" stroke-width="1.2" stroke-dasharray="3.2 2.4"/>
<text font-family="Liberation Sans, Arial, sans-serif" font-size="8.51" fill="#2a2a2a" stroke="#2a2a2a" stroke-width="0.25"><tspan x="379.82" y="90.40" textLength="32.46" lengthAdjust="spacingAndGlyphs">Inflación</tspan><tspan x="380.07" y="101.57" textLength="41.87" lengthAdjust="spacingAndGlyphs">(ene/sept):</tspan><tspan x="379.75" y="112.74" textLength="12.45" lengthAdjust="spacingAndGlyphs">1er</tspan><tspan x="394.29" y="112.74" textLength="18.62" lengthAdjust="spacingAndGlyphs">trim:</tspan><tspan x="421.20" y="112.74" textLength="18.40" lengthAdjust="spacingAndGlyphs">7,8%</tspan><tspan x="380.16" y="123.91" textLength="19.43" lengthAdjust="spacingAndGlyphs">2ndo</tspan><tspan x="401.67" y="123.91" textLength="18.62" lengthAdjust="spacingAndGlyphs">trim:</tspan><tspan x="422.28" y="123.91" textLength="23.03" lengthAdjust="spacingAndGlyphs">5,37%</tspan><tspan x="380.25" y="135.08" textLength="12.52" lengthAdjust="spacingAndGlyphs">3er</tspan><tspan x="394.86" y="135.08" textLength="18.62" lengthAdjust="spacingAndGlyphs">trim:</tspan><tspan x="415.38" y="135.08" textLength="16.53" lengthAdjust="spacingAndGlyphs">6,12</tspan><tspan x="380.09" y="146.25" textLength="26.09" lengthAdjust="spacingAndGlyphs">(estim)</tspan><tspan x="380.43" y="157.42" textLength="20.91" lengthAdjust="spacingAndGlyphs">Total:</tspan><tspan x="403.31" y="157.42" textLength="27.78" lengthAdjust="spacingAndGlyphs">20,54%</tspan></text>
<path d="M541.4 94.1 L619.3 94.1 L619.3 190.6 L606.8 190.6 L613.5 207.6 L586.5 190.6 L541.4 190.6 Z" fill="#fff" stroke="#4f86b0" stroke-width="1.4"/>
<text font-family="Liberation Sans, Arial, sans-serif" font-size="8.51" fill="#2a2a2a" stroke="#2a2a2a" stroke-width="0.25"><tspan x="555.08" y="109.60" textLength="12.49" lengthAdjust="spacingAndGlyphs">Los</tspan><tspan x="569.72" y="109.60" textLength="30.16" lengthAdjust="spacingAndGlyphs">haberes</tspan><tspan x="555.15" y="120.78" textLength="33.82" lengthAdjust="spacingAndGlyphs">máximos</tspan><tspan x="555.14" y="131.96" textLength="28.18" lengthAdjust="spacingAndGlyphs">reciben</tspan><tspan x="585.40" y="131.96" textLength="9.82" lengthAdjust="spacingAndGlyphs">un</tspan><tspan x="555.13" y="143.14" textLength="43.58" lengthAdjust="spacingAndGlyphs">incremento</tspan><tspan x="555.36" y="154.32" textLength="9.57" lengthAdjust="spacingAndGlyphs">en</tspan><tspan x="567.08" y="154.32" textLength="12.04" lengthAdjust="spacingAndGlyphs">sus</tspan><tspan x="555.12" y="165.50" textLength="30.16" lengthAdjust="spacingAndGlyphs">haberes</tspan><tspan x="587.37" y="165.50" textLength="9.59" lengthAdjust="spacingAndGlyphs">de</tspan><tspan x="555.07" y="176.68" textLength="16.43" lengthAdjust="spacingAndGlyphs">18,4</tspan><tspan x="573.49" y="176.68" textLength="6.61" lengthAdjust="spacingAndGlyphs">%</tspan></text>
<path d="M432.1 208.4 L534.8 208.4 L534.8 236.3 L476.0 236.3 L462.5 247.0 L449.3 236.3 L432.1 236.3 Z" fill="#fff" stroke="#555" stroke-width="1.2" stroke-dasharray="3 2.6"/>
<text font-family="Liberation Sans, Arial, sans-serif" font-size="8.51" fill="#2a2a2a" stroke="#2a2a2a" stroke-width="0.25"><tspan x="449.92" y="221.10" textLength="32.46" lengthAdjust="spacingAndGlyphs">Inflación</tspan><tspan x="484.53" y="221.10" textLength="25.49" lengthAdjust="spacingAndGlyphs">primer</tspan><tspan x="450.45" y="232.20" textLength="34.69" lengthAdjust="spacingAndGlyphs">semestre</tspan><tspan x="487.38" y="232.20" textLength="22.93" lengthAdjust="spacingAndGlyphs">13,6%</tspan></text>
<path d="M492.6 300.2 L606.4 300.2 L606.4 320.2 L492.6 320.2 L492.6 308.7 L450.6 298.6 L492.6 303.5 Z" fill="#fff" stroke="#a07878" stroke-width="1.1" stroke-dasharray="1.1 1.8"/>
<text font-family="Liberation Sans, Arial, sans-serif" font-size="8.56" fill="#2a2a2a" stroke="#2a2a2a" stroke-width="0.25"><tspan x="503.51" y="312.70" textLength="32.67" lengthAdjust="spacingAndGlyphs">Inflación</tspan><tspan x="538.43" y="312.70" textLength="12.53" lengthAdjust="spacingAndGlyphs">1er</tspan><tspan x="553.06" y="312.70" textLength="18.74" lengthAdjust="spacingAndGlyphs">trim:</tspan><tspan x="573.73" y="312.70" textLength="18.52" lengthAdjust="spacingAndGlyphs">7,8%</tspan></text>
<line x1="64.5" y1="188.4" x2="614.5" y2="186.0" stroke="#6a8fa8" stroke-width="1.1" stroke-dasharray="3.4 2.2"/>
<text font-family="Liberation Sans, Arial, sans-serif" font-size="14.64" fill="#1a1a1a" stroke="#1a1a1a" stroke-width="0.3"><tspan x="14.05" y="423.70" textLength="16.11" lengthAdjust="spacingAndGlyphs">En</tspan><tspan x="33.93" y="423.70" textLength="27.23" lengthAdjust="spacingAndGlyphs">este</tspan><tspan x="64.76" y="423.70" textLength="55.71" lengthAdjust="spacingAndGlyphs">informe,</tspan><tspan x="124.06" y="423.70" textLength="16.73" lengthAdjust="spacingAndGlyphs">no</tspan><tspan x="144.52" y="423.70" textLength="25.91" lengthAdjust="spacingAndGlyphs">está</tspan><tspan x="175.10" y="423.70" textLength="84.21" lengthAdjust="spacingAndGlyphs">contemplada</tspan><tspan x="264.22" y="423.70" textLength="10.17" lengthAdjust="spacingAndGlyphs">la</tspan><tspan x="278.94" y="423.70" textLength="89.85" lengthAdjust="spacingAndGlyphs">incorporación</tspan><tspan x="372.52" y="423.70" textLength="16.50" lengthAdjust="spacingAndGlyphs">de</tspan><tspan x="392.87" y="423.70" textLength="26.51" lengthAdjust="spacingAndGlyphs">más</tspan><tspan x="423.09" y="423.70" textLength="16.50" lengthAdjust="spacingAndGlyphs">de</tspan><tspan x="443.51" y="423.70" textLength="24.21" lengthAdjust="spacingAndGlyphs">170</tspan><tspan x="471.48" y="423.70" textLength="95.85" lengthAdjust="spacingAndGlyphs">medicamentos</tspan><tspan x="570.96" y="423.70" textLength="57.78" lengthAdjust="spacingAndGlyphs">gratuitos</tspan><tspan x="13.93" y="443.30" textLength="11.15" lengthAdjust="spacingAndGlyphs">al</tspan><tspan x="28.82" y="443.30" textLength="80.86" lengthAdjust="spacingAndGlyphs">Vademécum</tspan><tspan x="113.31" y="443.30" textLength="16.50" lengthAdjust="spacingAndGlyphs">de</tspan><tspan x="133.29" y="443.30" textLength="38.36" lengthAdjust="spacingAndGlyphs">PAMI,</tspan><tspan x="175.11" y="443.30" textLength="12.08" lengthAdjust="spacingAndGlyphs">lo</tspan><tspan x="190.69" y="443.30" textLength="24.92" lengthAdjust="spacingAndGlyphs">que</tspan><tspan x="219.28" y="443.30" textLength="14.05" lengthAdjust="spacingAndGlyphs">se</tspan><tspan x="236.94" y="443.30" textLength="42.50" lengthAdjust="spacingAndGlyphs">estima</tspan><tspan x="283.96" y="443.30" textLength="61.29" lengthAdjust="spacingAndGlyphs">consumía</tspan><tspan x="349.81" y="443.30" textLength="11.62" lengthAdjust="spacingAndGlyphs">el</tspan><tspan x="365.26" y="443.30" textLength="27.53" lengthAdjust="spacingAndGlyphs">30%</tspan><tspan x="396.33" y="443.30" textLength="20.05" lengthAdjust="spacingAndGlyphs">del</tspan><tspan x="419.96" y="443.30" textLength="47.69" lengthAdjust="spacingAndGlyphs">ingreso</tspan><tspan x="471.25" y="443.30" textLength="16.50" lengthAdjust="spacingAndGlyphs">de</tspan><tspan x="491.46" y="443.30" textLength="18.11" lengthAdjust="spacingAndGlyphs">los</tspan><tspan x="513.22" y="443.30" textLength="63.13" lengthAdjust="spacingAndGlyphs">jubilados.</tspan></text>
</svg></body></html>
